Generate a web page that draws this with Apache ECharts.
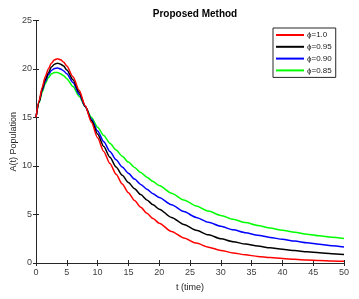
<!DOCTYPE html>
<html><head><meta charset="utf-8">
<script src="https://cdn.jsdelivr.net/npm/echarts@6/dist/echarts.min.js"></script>
<style>html,body{margin:0;padding:0;background:#fff}#c{width:359px;height:299px}</style>
</head><body><div id="c"></div>
<script>
var times = [0,0.5,1,1.5,2,2.5,3,3.5,4,4.5,5,6,7,8,9,10,11,12,13,14,15,16,17,18,19,20,22,24,26,28,30,32,34,36,38,40,42,44,46,48,50];
var phi100 = [15,16.7,18.1,19.2,20.0,20.6,20.95,21.05,20.95,20.7,20.3,19.2,17.8,16.2,14.5,12.9,11.5,10.25,9.15,8.15,7.25,6.45,5.75,5.13,4.58,4.1,3.25,2.58,2.05,1.63,1.3,1.04,0.84,0.68,0.56,0.46,0.38,0.31,0.26,0.21,0.18];
var phi095 = [15,16.6,17.9,18.9,19.6,20.2,20.5,20.6,20.5,20.3,19.9,18.9,17.6,16.15,14.7,13.3,12.0,10.9,9.9,9.05,8.3,7.65,7.05,6.5,6.0,5.55,4.7,3.97,3.37,2.9,2.5,2.2,1.95,1.75,1.57,1.42,1.28,1.16,1.06,0.96,0.88];
var phi090 = [15,16.6,17.8,18.7,19.4,19.85,20.05,20.1,20.0,19.8,19.5,18.6,17.4,16.1,14.85,13.6,12.5,11.5,10.65,9.9,9.25,8.65,8.1,7.6,7.15,6.75,6.0,5.3,4.7,4.2,3.78,3.42,3.12,2.86,2.64,2.44,2.26,2.09,1.93,1.78,1.64];
var phi085 = [15,16.5,17.6,18.5,19.1,19.5,19.65,19.65,19.5,19.3,19.0,18.2,17.2,16.1,15.0,14.0,13.15,12.35,11.65,11.0,10.4,9.85,9.33,8.85,8.4,7.98,7.2,6.5,5.88,5.35,4.9,4.5,4.17,3.87,3.6,3.37,3.16,2.97,2.8,2.65,2.52];
var seriesNames = ['\u03D5=1.0','\u03D5=0.95','\u03D5=0.90','\u03D5=0.85'];
var seriesColors = ['#ff0000','#000000','#0000ff','#00ff00'];
var xTicks = [0,5,10,15,20,25,30,35,40,45,50];
var yTicks = [0,5,10,15,20,25];

function pairs(v){ return times.map(function(t,i){ return [t, v[i]]; }); }
var all = [phi100, phi095, phi090, phi085];
var axisCol = '#262626';
var font = 'Liberation Sans, Arial, sans-serif';
var chart = echarts.init(document.getElementById('c'));
chart.setOption({
  animation:false,
  backgroundColor:'#fff',
  title:{text:'Proposed Method', left:190, textAlign:'center', top:4,
    textStyle:{fontFamily:font, fontSize:10, fontWeight:'bold', color:'#000'}},
  legend:{
    data:seriesNames, left:273, top:28, orient:'vertical',
    backgroundColor:'#fff', borderColor:'#262626', borderWidth:1,
    padding:[3,4,3,3], itemGap:3.8, itemWidth:28, itemHeight:2, icon:'rect',
    textStyle:{fontFamily:font, fontSize:8, color:'#222', lineHeight:8, padding:[0,0,0,-2]}
  },
  grid:{left:36, right:15, top:20.5, bottom:36, containLabel:false, outerBoundsMode:'none'},
  xAxis:[{
    type:'value', min:0, max:50, interval:5, position:'bottom',
    name:'t (time)', nameLocation:'middle', nameGap:20, nameMoveOverlap:false,
    nameTextStyle:{fontFamily:font, fontSize:9, color:'#222'},
    axisLine:{show:true, lineStyle:{color:axisCol, width:1}},
    axisTick:{show:true, inside:true, length:3, lineStyle:{color:axisCol}},
    axisLabel:{fontFamily:font, fontSize:9, color:'#404040', margin:5,
      formatter:function(v){ return xTicks.indexOf(v)>=0 ? String(v) : ''; }},
    splitLine:{show:false}
  },{
    type:'value', min:0, max:50, interval:5, position:'top',
    axisLine:{show:true, lineStyle:{color:axisCol, width:1}},
    axisTick:{show:true, inside:true, length:3, lineStyle:{color:axisCol}},
    axisLabel:{show:false}, splitLine:{show:false}
  }],
  yAxis:[{
    type:'value', min:0, max:25, interval:5, position:'left',
    name:'A(t) Population', nameLocation:'middle', nameGap:18, nameMoveOverlap:false,
    nameTextStyle:{fontFamily:font, fontSize:9, color:'#222'},
    axisLine:{show:true, lineStyle:{color:axisCol, width:1}},
    axisTick:{show:true, inside:true, length:3, lineStyle:{color:axisCol}},
    axisLabel:{fontFamily:font, fontSize:9, color:'#404040', margin:4,
      formatter:function(v){ return yTicks.indexOf(v)>=0 ? String(v) : ''; }},
    splitLine:{show:false}
  },{
    type:'value', min:0, max:25, interval:5, position:'right',
    axisLine:{show:true, lineStyle:{color:axisCol, width:1}},
    axisTick:{show:true, inside:true, length:3, lineStyle:{color:axisCol}},
    axisLabel:{show:false}, splitLine:{show:false}
  }],
  series: all.map(function(v,i){
    return {name:seriesNames[i], type:'line', data:pairs(v), smooth:0.25, smoothMonotone:'x',
      showSymbol:false, symbol:'none', xAxisIndex:0, yAxisIndex:0,
      lineStyle:{color:seriesColors[i], width:1.5}, itemStyle:{color:seriesColors[i]},
      z: 10-i};
  })
});
</script></body></html>
